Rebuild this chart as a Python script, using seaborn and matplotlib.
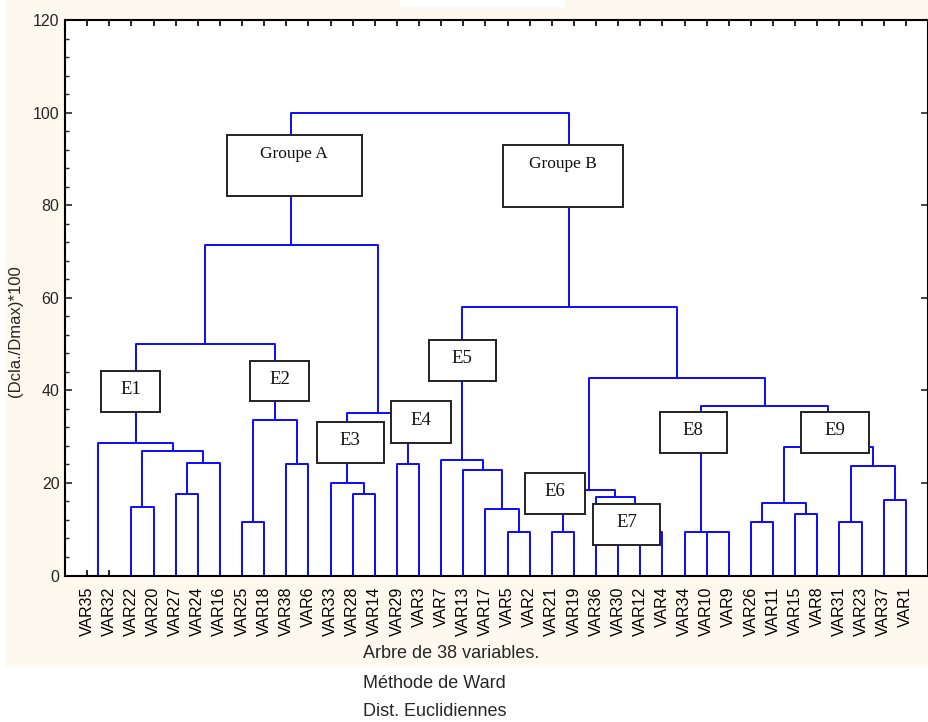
import numpy as np
import pandas as pd
import matplotlib
matplotlib.use("Agg")
import matplotlib.pyplot as plt
import seaborn as sns
from matplotlib.patches import Rectangle
from matplotlib.ticker import MultipleLocator

# leaf order along the x axis
leaves = ["VAR35", "VAR32", "VAR22", "VAR20", "VAR27", "VAR24", "VAR16", "VAR25",
          "VAR18", "VAR38", "VAR6", "VAR33", "VAR28", "VAR14", "VAR29", "VAR3",
          "VAR7", "VAR13", "VAR17", "VAR5", "VAR2", "VAR21", "VAR19", "VAR36",
          "VAR30", "VAR12", "VAR4", "VAR34", "VAR10", "VAR9", "VAR26", "VAR11",
          "VAR15", "VAR8", "VAR31", "VAR23", "VAR37", "VAR1"]

# merges: a leaf name or the index of an earlier merge, and the height (Dcla./Dmax)*100
link_left = ["VAR35", "VAR22", "VAR27", 2, 1, 0, "VAR25", "VAR38", 6, 5,
             "VAR28", "VAR33", "VAR29", 11, 9, "VAR5", "VAR17", "VAR13", "VAR7",
             "VAR21", "VAR12", "VAR30", "VAR36", 19, "VAR10", "VAR34", "VAR26",
             "VAR15", 26, "VAR31", "VAR37", 29, 28, 25, 23, 18, 14]
link_right = ["VAR32", "VAR20", "VAR24", "VAR16", 3, 4, "VAR18", "VAR6", 7, 8,
              "VAR14", 10, "VAR3", 12, 13, "VAR2", 15, 16, 17,
              "VAR19", "VAR4", 20, 21, 22, "VAR9", 24, "VAR11",
              "VAR8", 27, "VAR23", "VAR1", 30, 31, 32, 33, 34, 35]
link_height = [0.0, 14.9, 17.6, 24.2, 26.9, 28.6, 11.5, 24.0, 33.6, 50.1,
               17.6, 19.9, 24.0, 35.0, 71.4, 9.3, 14.4, 22.7, 25.0,
               9.3, 9.3, 13.0, 17.0, 18.4, 9.3, 9.4, 11.5,
               13.3, 15.7, 11.5, 16.3, 23.6, 27.8, 36.6, 42.6, 58.0, 100.0]

# group labels drawn in boxes
box_labels = ["Groupe A", "Groupe B", "E1", "E2", "E3", "E4", "E5", "E6", "E7", "E8", "E9"]

# box layout (x0, x1, y0, y1) in data units, and text height
box_layout = [(7.32, 13.41, 81.9, 95.2), (19.79, 25.2, 79.7, 93.0),
              (1.61, 4.31, 35.35, 44.2), (8.35, 11.04, 37.6, 46.4),
              (11.37, 14.42, 24.3, 33.1), (14.75, 17.46, 28.7, 37.6),
              (16.43, 19.46, 42.05, 50.85), (20.8, 23.51, 13.2, 22.1),
              (23.85, 26.89, 6.53, 15.46), (26.87, 29.91, 26.5, 35.4),
              (33.26, 36.32, 26.5, 35.4)]
box_text_y = [91.1, 89.0] + [None] * 9

# build the U shaped segments of the tree
pos = {name: i + 1 for i, name in enumerate(leaves)}
node_x, node_h = [], []
rows = []


def child(c):
    if isinstance(c, str):
        return pos[c], 0.0
    return node_x[c], node_h[c]


for k, (a, b, h) in enumerate(zip(link_left, link_right, link_height)):
    xa, ha = child(a)
    xb, hb = child(b)
    for x, y in [(xa, ha), (xa, h), (xb, h), (xb, hb)]:
        rows.append((k, x, y))
    node_x.append((xa + xb) / 2)
    node_h.append(h)

tree = pd.DataFrame(rows, columns=["link", "x", "y"])

sns.set_theme(style="ticks")
plt.rcParams["font.family"] = ["Liberation Sans", "DejaVu Sans"]

fig = plt.figure(figsize=(9.29, 7.22), dpi=100, facecolor="white")

# cream panel behind the plot, with the small white notch at the top
fig.patches.append(Rectangle((5 / 929, 1 - 667 / 722), 1 - 5 / 929, 667 / 722,
                             transform=fig.transFigure, facecolor="#fdf9ee",
                             edgecolor="none", zorder=-2))
fig.patches.append(Rectangle((400 / 929, 1 - 7.3 / 722), 165 / 929, 7.3 / 722,
                             transform=fig.transFigure, facecolor="white",
                             edgecolor="none", zorder=-1))

ax = fig.add_axes([65 / 929, 1 - 575.5 / 722, 863 / 929, 555.5 / 722])
ax.set_zorder(1)
ax.set_facecolor("white")

sns.lineplot(data=tree, x="x", y="y", units="link", estimator=None, sort=False,
             color="#0a0aff", lw=1.4, ax=ax, legend=False)

for label, (x0, x1, y0, y1), ty in zip(box_labels, box_layout, box_text_y):
    ax.add_patch(Rectangle((x0, y0), x1 - x0, y1 - y0, facecolor="white",
                           edgecolor="#222222", lw=1.4, zorder=3))
    if ty is None:
        yt, fs = (y0 + y1) / 2 + 0.4, 13.5
    else:
        yt, fs = ty, 12.5
    ax.text((x0 + x1) / 2, yt, label, ha="center", va="center", fontsize=fs,
            family=["Liberation Serif", "DejaVu Serif"], color="#111111", zorder=4)

ax.set_xlim(0, len(leaves) + 1)
ax.set_ylim(0, 120)
ax.set_xticks(range(1, len(leaves) + 1))
ax.set_xticklabels(leaves, rotation=90, fontsize=11.5)
ax.yaxis.set_major_locator(MultipleLocator(20))
ax.yaxis.set_minor_locator(MultipleLocator(4))
ax.tick_params(axis="x", direction="in", top=True, bottom=True, length=4,
               width=1.2, pad=8, colors="black")
ax.tick_params(axis="y", which="major", direction="in", left=True, right=True,
               length=5, width=1.2, labelsize=11.5, pad=4)
ax.tick_params(axis="y", which="minor", direction="in", left=True, right=False,
               length=3, width=1.0)
for s in ax.spines.values():
    s.set_visible(True)
    s.set_linewidth(1.5)
    s.set_color("black")

ax.set_xlabel("")
ax.set_ylabel("(Dcla./Dmax)*100", fontsize=12)
ax.yaxis.set_label_coords(-42 / 863, 0.44, transform=ax.transAxes)

fig.text(363 / 929, 1 - 654 / 722, "Arbre de 38 variables.", ha="left", va="center", fontsize=13)
fig.text(363 / 929, 1 - 683 / 722, "Méthode de Ward", ha="left", va="center", fontsize=13)
fig.text(363 / 929, 1 - 712 / 722, "Dist. Euclidiennes", ha="left", va="center", fontsize=13)

fig.savefig("out.png", dpi=100, facecolor="white")
